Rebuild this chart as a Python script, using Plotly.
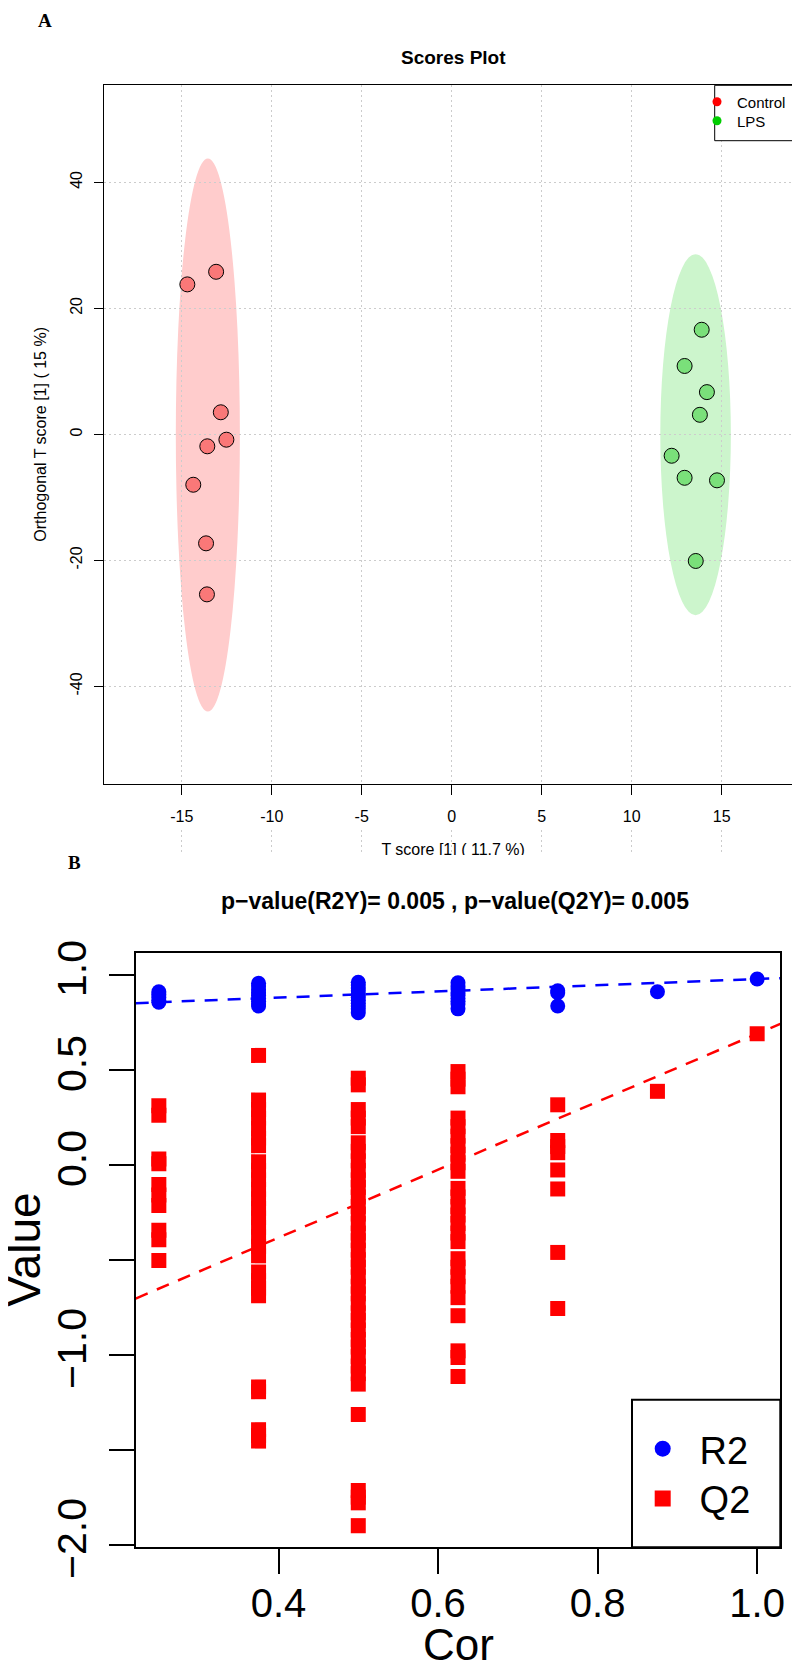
import plotly.graph_objects as go

W, H = 800, 1665
FONT = "Liberation Sans, Arial, Helvetica, sans-serif"
SERIF = "Liberation Serif, Times New Roman, serif"

# ---------------- Panel A : OPLS-DA scores ----------------
control_t = [-14.69, -13.09, -12.83, -12.52, -13.58, -14.36, -13.65, -13.60]
control_o = [23.8, 25.8, 3.5, -0.85, -1.9, -8.0, -17.3, -25.4]
lps_t = [13.89, 12.94, 14.18, 13.79, 12.22, 12.94, 14.74, 13.56]
lps_o = [16.6, 10.85, 6.7, 3.1, -3.4, -6.9, -7.3, -20.1]

# confidence ellipses: centre (t, o) and half-widths (t, o)
control_ellipse = [-13.55, -0.1, 1.78, 43.9]
lps_ellipse = [13.55, -0.05, 1.96, 28.65]

x_ticks_a = [-15, -10, -5, 0, 5, 10, 15]
x_tick_labels_a = ["-15", "-10", "-5", "0", "5", "10", "15"]
y_ticks_a = [-40, -20, 0, 20, 40]
y_tick_labels_a = ["-40", "-20", "0", "20", "40"]

# ---------------- Panel B : permutation test ----------------
cor_levels = [0.25, 0.375, 0.5, 0.625, 0.75, 0.875, 1.0]
r2_groups = [
    [0.91, 0.895, 0.88, 0.865, 0.855],
    [0.955, 0.94, 0.92, 0.905, 0.89, 0.875, 0.86, 0.845, 0.835],
    [0.96, 0.945, 0.93, 0.915, 0.895, 0.88, 0.865, 0.85, 0.835, 0.82, 0.80],
    [0.957, 0.94, 0.925, 0.905, 0.89, 0.875, 0.86, 0.845, 0.82],
    [0.915, 0.905, 0.835],
    [0.91],
    [0.977],
]
q2_groups = [
    [0.31, 0.26, 0.03, 0.005, -0.105, -0.16, -0.215, -0.345, -0.395, -0.505],
    [0.575, 0.34, 0.29, 0.245, 0.19, 0.14, 0.10, 0.015, -0.03, -0.08, -0.13,
     -0.18, -0.23, -0.28, -0.33, -0.38, -0.43, -0.48, -0.565, -0.61, -0.65,
     -0.69, -1.17, -1.195, -1.395, -1.425, -1.455],
    [0.455, 0.42, 0.29, 0.245, 0.2, 0.115, 0.07, 0.02, -0.03, -0.08, -0.12,
     -0.17, -0.22, -0.26, -0.31, -0.36, -0.4, -0.45, -0.5, -0.54, -0.59,
     -0.64, -0.68, -0.73, -0.78, -0.82, -0.87, -0.92, -0.96, -1.01, -1.06,
     -1.1, -1.155, -1.315, -1.715, -1.75, -1.78, -1.90],
    [0.49, 0.45, 0.41, 0.245, 0.2, 0.15, 0.1, 0.055, 0.01, -0.035, -0.125,
     -0.17, -0.22, -0.265, -0.31, -0.36, -0.405, -0.495, -0.54, -0.59,
     -0.64, -0.70, -0.795, -0.98, -1.015, -1.115],
    [0.315, 0.127, 0.095, 0.063, -0.028, -0.128, -0.462, -0.757],
    [0.386],
    [0.689],
]
r2_line_intercept = 0.814
q2_line_intercept = -1.10

x_ticks_b = [0.4, 0.6, 0.8, 1.0]
x_tick_labels_b = ["0.4", "0.6", "0.8", "1.0"]
y_ticks_b = [-2.0, -1.5, -1.0, -0.5, 0.0, 0.5, 1.0]
y_tick_labels_b = ["\u22122.0", "", "\u22121.0", "", "0.0", "0.5", "1.0"]


def fx(p):
    return p / W


def fy(p):
    return 1 - p / H


# layout geometry (pixels)
A_L, A_R, A_T, A_B = 96, 794.3, 77.3, 776
B_L, B_R, B_T, B_B = 127.7, 772.3, 945, 1539.3
xr_a = [-19.32, 19.48]
yr_a = [-55.5, 55.4]
xr_b = [0.221, 1.029]
yr_b = [-2.014, 1.114]

fig = go.Figure()

# ---- Panel A traces
fig.add_trace(go.Scatter(
    x=control_t, y=control_o, mode="markers", xaxis="x", yaxis="y",
    marker=dict(size=15, color="rgb(250,120,120)", line=dict(color="black", width=1)),
    showlegend=False, hoverinfo="skip"))
fig.add_trace(go.Scatter(
    x=lps_t, y=lps_o, mode="markers", xaxis="x", yaxis="y",
    marker=dict(size=15, color="rgb(122,224,122)", line=dict(color="black", width=1)),
    showlegend=False, hoverinfo="skip"))
# legend entries of panel A
fig.add_trace(go.Scatter(x=[None], y=[None], mode="markers", name="Control",
                         marker=dict(size=9, color="#FF0000"), legend="legend"))
fig.add_trace(go.Scatter(x=[None], y=[None], mode="markers", name="LPS",
                         marker=dict(size=9, color="#00CD00"), legend="legend2"))

# x-axis title of panel A (clipped at the panel border like the reference)
fig.add_trace(go.Scatter(
    x=[(xr_a[0] + xr_a[1]) / 2], y=[0.16], mode="text", xaxis="x", yaxis="y3",
    text=["T score [1] ( 11.7 %)"], textposition="middle center",
    textfont=dict(size=16, color="black", family=FONT),
    cliponaxis=True, showlegend=False, hoverinfo="skip"))

# ---- Panel B traces
r2_x, r2_y, q2_x, q2_y = [], [], [], []
for c, vals in zip(cor_levels, r2_groups):
    r2_x += [c] * len(vals)
    r2_y += vals
for c, vals in zip(cor_levels, q2_groups):
    q2_x += [c] * len(vals)
    q2_y += vals

fig.add_trace(go.Scatter(x=r2_x, y=r2_y, mode="markers", xaxis="x2", yaxis="y2",
                         marker=dict(size=15, color="#0000FF", symbol="circle"),
                         showlegend=False, hoverinfo="skip"))
fig.add_trace(go.Scatter(x=q2_x, y=q2_y, mode="markers", xaxis="x2", yaxis="y2",
                         marker=dict(size=15, color="#FF0000", symbol="square"),
                         showlegend=False, hoverinfo="skip"))

r2_final = r2_groups[-1][0]
q2_final = q2_groups[-1][0]
line_x = xr_b
r2_line_y = [r2_line_intercept + (r2_final - r2_line_intercept) * v for v in line_x]
q2_line_y = [q2_line_intercept + (q2_final - q2_line_intercept) * v for v in line_x]
fig.add_trace(go.Scatter(x=line_x, y=r2_line_y, mode="lines", xaxis="x2", yaxis="y2",
                         line=dict(color="#0000FF", width=2.5, dash="13px,10px"),
                         showlegend=False, hoverinfo="skip"))
fig.add_trace(go.Scatter(x=line_x, y=q2_line_y, mode="lines", xaxis="x2", yaxis="y2",
                         line=dict(color="#FF0000", width=2.5, dash="13px,10px"),
                         showlegend=False, hoverinfo="skip"))

# legend entries of panel B
fig.add_trace(go.Scatter(x=[None], y=[None], mode="markers", name="\u00a0\u2006R2",
                         marker=dict(size=18, color="#0000FF", symbol="circle"),
                         legend="legend3"))
fig.add_trace(go.Scatter(x=[None], y=[None], mode="markers", name="\u00a0\u2006Q2",
                         marker=dict(size=18, color="#FF0000", symbol="square"),
                         legend="legend4"))

# ---- shapes
shapes = []
for (ct, co, ht, ho), col in [(control_ellipse, "rgb(255,204,204)"),
                              (lps_ellipse, "rgb(204,245,204)")]:
    shapes.append(dict(type="circle", xref="x", yref="y", x0=ct - ht, x1=ct + ht,
                       y0=co - ho, y1=co + ho, fillcolor=col, line=dict(width=0),
                       layer="below"))
# legend boxes
shapes.append(dict(type="rect", xref="paper", yref="paper", x0=fx(706.7), x1=fx(A_R),
                   y0=fy(132.7), y1=fy(A_T), fillcolor="white",
                   line=dict(color="black", width=1), layer="above"))
shapes.append(dict(type="rect", xref="paper", yref="paper", x0=fx(624), x1=fx(B_R),
                   y0=fy(B_B), y1=fy(1391.7), fillcolor="white",
                   line=dict(color="black", width=2), layer="above"))

annotations = [
    dict(text="<b>A</b>", x=fx(36.7), y=fy(13), font=dict(family=SERIF, size=19, color="black")),
    dict(text="<b>Scores Plot</b>", x=fx((A_L + A_R) / 2), y=fy(50), font=dict(size=19)),
    dict(text="Orthogonal T score [1] ( 15 %)", x=fx(33), y=fy((A_T + A_B) / 2),
         textangle=-90, font=dict(size=16)),
    dict(text="<b>B</b>", x=fx(66.4), y=fy(854), font=dict(family=SERIF, size=19, color="black")),
    dict(text="<b>p\u2212value(R2Y)= 0.005 , p\u2212value(Q2Y)= 0.005</b>",
         x=fx(447.5), y=fy(893), font=dict(size=23)),
    dict(text="Value", x=fx(16.5), y=fy((B_T + B_B) / 2), textangle=-90, font=dict(size=46)),
    dict(text="Cor", x=fx((B_L + B_R) / 2), y=fy(1636), font=dict(size=44)),
]
for a in annotations:
    a.update(xref="paper", yref="paper", showarrow=False, xanchor="center", yanchor="middle")
    a.setdefault("font", {})
    a["font"].setdefault("family", FONT)
    a["font"].setdefault("color", "black")

axis_a = dict(showline=True, linecolor="black", linewidth=1, mirror=True,
              ticks="outside", tickcolor="black", tickwidth=1, zeroline=False,
              showgrid=True, gridcolor="#cccccc", gridwidth=1, griddash="2px,3px",
              tickfont=dict(size=16, color="black", family=FONT))
axis_b = dict(showline=True, linecolor="black", linewidth=2, mirror=True,
              ticks="outside", tickcolor="black", tickwidth=2, ticklen=25,
              zeroline=False, showgrid=False,
              tickfont=dict(size=40, color="black", family=FONT))

legend_common = dict(xanchor="left", yanchor="middle", bgcolor="rgba(0,0,0,0)",
                     borderwidth=0)

fig.update_layout(
    width=W, height=H, margin=dict(l=0, r=0, t=0, b=0, autoexpand=False),
    paper_bgcolor="white", plot_bgcolor="white",
    font=dict(family=FONT, color="black"),
    xaxis=dict(axis_a, domain=[fx(A_L), fx(A_R)], range=xr_a, anchor="y",
               tickmode="array", tickvals=x_ticks_a, ticktext=x_tick_labels_a,
               ticklen=10, ticklabelstandoff=8),
    yaxis=dict(axis_a, domain=[fy(A_B), fy(A_T)], range=yr_a, anchor="x",
               tickmode="array", tickvals=y_ticks_a, ticktext=y_tick_labels_a,
               ticklen=9, tickangle=-90, ticklabelstandoff=6),
    yaxis3=dict(domain=[fy(847), fy(822)], range=[0, 1], anchor="x", visible=False,
                fixedrange=True),
    xaxis2=dict(axis_b, domain=[fx(B_L), fx(B_R)], range=xr_b, anchor="y2",
                tickmode="array", tickvals=x_ticks_b, ticktext=x_tick_labels_b,
                ticklabelstandoff=-5),
    yaxis2=dict(axis_b, domain=[fy(B_B), fy(B_T)], range=yr_b, anchor="x2",
                tickmode="array", tickvals=y_ticks_b, ticktext=y_tick_labels_b,
                tickangle=-90, tickfont=dict(size=41, color="black", family=FONT),
                ticklabelstandoff=6),
    shapes=shapes,
    annotations=annotations,
    legend=dict(legend_common, x=fx(689), y=fy(94), font=dict(size=15)),
    legend2=dict(legend_common, x=fx(689), y=fy(113), font=dict(size=15)),
    legend3=dict(legend_common, x=fx(634.7), y=fy(1441), font=dict(size=38)),
    legend4=dict(legend_common, x=fx(634.7), y=fy(1490.7), font=dict(size=38)),
)

fig.write_html("out.html")
